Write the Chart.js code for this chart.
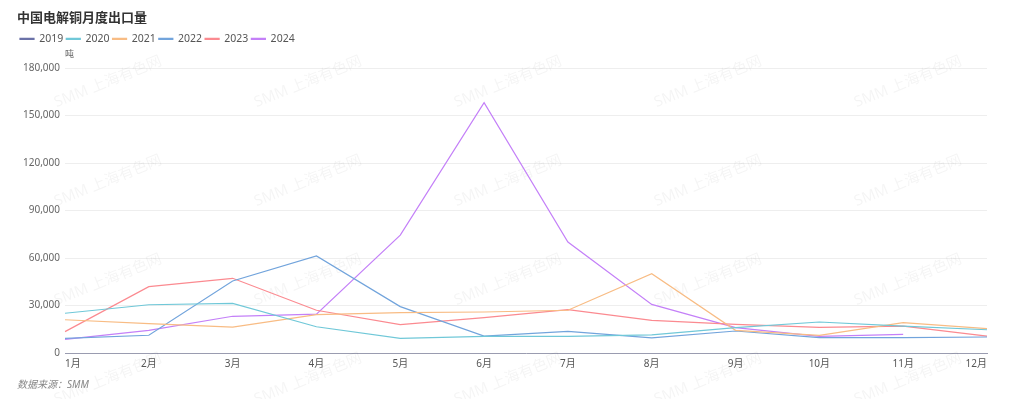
<!DOCTYPE html>
<html>
<head>
<meta charset="utf-8">
<script src="https://cdn.jsdelivr.net/npm/chart.js@4/dist/chart.umd.min.js"></script>
<style>
  html, body { margin: 0; padding: 0; background: #fff; }
  #wrap { width: 1024px; height: 399px; position: relative; }
</style>
</head>
<body>
<div id="wrap"><canvas id="chart" width="1024" height="399"></canvas></div>
<script>
// data (吨)
const months = ['1月', '2月', '3月', '4月', '5月', '6月', '7月', '8月', '9月', '10月', '11月', '12月'];
const years = ['2019', '2020', '2021', '2022', '2023', '2024'];
const v2019 = [null, null, null, null, null, null, null, null, null, null, null, null];
const v2020 = [25100, 30500, 31400, 16600, 9300, 10500, 10500, 11400, 16000, 19600, 17000, 14700];
const v2021 = [21000, 18500, 16400, 24200, 25500, 25900, 27000, 50100, 14300, 11200, 19200, 15400];
const v2022 = [9300, 11200, 45500, 61300, 29300, 10700, 13700, 9500, 13900, 9700, 9700, 10100];
const v2023 = [13500, 41900, 47200, 27000, 17900, 22300, 27400, 20600, 18100, 16200, 17000, 10700];
const v2024 = [8600, 14300, 23200, 24600, 74500, 158100, 70100, 30700, 16000, 10500, 11800, null];
const yTicks = [0, 30000, 60000, 90000, 120000, 150000, 180000];

const colors = ['#6b72a8', '#70c8d8', '#f8bc84', '#72a4dc', '#fb8a90', '#c480f8'];
const series = [v2019, v2020, v2021, v2022, v2023, v2024];

const FONT = '"Noto Sans", "Noto Sans CJK SC", sans-serif';

const datasets = years.map(function(y, i){
  return {
    label: y,
    data: series[i],
    borderColor: colors[i],
    backgroundColor: colors[i],
    borderWidth: 1.2,
    pointRadius: 0,
    pointHoverRadius: 0,
    tension: 0,
    spanGaps: false
  };
});

// extra space under the legend
const legendGap = {
  id: 'legendGap',
  beforeInit(chart){
    const fit = chart.legend.fit;
    chart.legend.fit = function(){
      fit.bind(chart.legend)();
      this.height += 14;
    };
  }
};

// watermark + unit label
const extras = {
  id: 'extras',
  beforeDatasetsDraw(chart){
    const ctx = chart.ctx;
    ctx.save();
    ctx.font = '15px ' + FONT;
    ctx.fillStyle = 'rgba(0,0,0,0.045)';
    ctx.textAlign = 'center';
    ctx.textBaseline = 'middle';
    for (let x = 108; x < 1024; x += 200) {
      for (let y = 82; y < 420; y += 99) {
        ctx.save();
        ctx.translate(x, y);
        ctx.rotate(-22 * Math.PI / 180);
        ctx.fillText('SMM 上海有色网', 0, 0);
        ctx.restore();
      }
    }
    ctx.restore();
  },
  afterDraw(chart){
    const ctx = chart.ctx;
    const a = chart.chartArea;
    ctx.save();
    ctx.font = '9px ' + FONT;
    ctx.fillStyle = '#666';
    ctx.textAlign = 'left';
    ctx.textBaseline = 'middle';
    ctx.fillText('吨', a.left, a.top - 14);
    ctx.restore();
  }
};

new Chart(document.getElementById('chart'), {
  type: 'line',
  data: { labels: months, datasets: datasets },
  options: {
    responsive: false,
    animation: false,
    devicePixelRatio: 1,
    layout: { padding: { left: 17, right: 37, top: 10, bottom: 8 } },
    plugins: {
      title: {
        display: true,
        text: '中国电解铜月度出口量',
        align: 'start',
        color: '#333',
        font: { family: FONT, size: 13, weight: 'bold' },
        padding: { top: 0, bottom: 5 }
      },
      subtitle: {
        display: true,
        text: '数据来源：SMM',
        position: 'bottom',
        align: 'start',
        color: '#888',
        font: { family: FONT, size: 10, style: 'italic' },
        padding: { top: 4, bottom: 0 }
      },
      legend: {
        display: true,
        align: 'start',
        labels: {
          boxWidth: 14,
          boxHeight: 1,
          padding: 3,
          color: '#555',
          font: { family: FONT, size: 10.5 }
        }
      },
      tooltip: { enabled: false }
    },
    scales: {
      x: {
        offset: false,
        grid: { display: false, drawTicks: false },
        border: { display: true, color: '#9a9cb0', width: 1 },
        ticks: {
          color: '#555',
          font: { family: FONT, size: 10 },
          padding: 5,
          align: 'inner',
          maxRotation: 0,
          autoSkip: false
        }
      },
      y: {
        min: 0,
        max: 180000,
        afterFit(s){ s.width = 48; },
        afterBuildTicks(s){ s.ticks = yTicks.map(function(v){ return { value: v }; }); },
        grid: { color: '#eeeeee', drawTicks: false },
        border: { display: false },
        ticks: {
          color: '#666',
          font: { family: FONT, size: 10 },
          padding: 5,
          callback: function(v){ return v.toLocaleString('en-US'); }
        }
      }
    }
  },
  plugins: [legendGap, extras]
});
</script>
</body>
</html>
